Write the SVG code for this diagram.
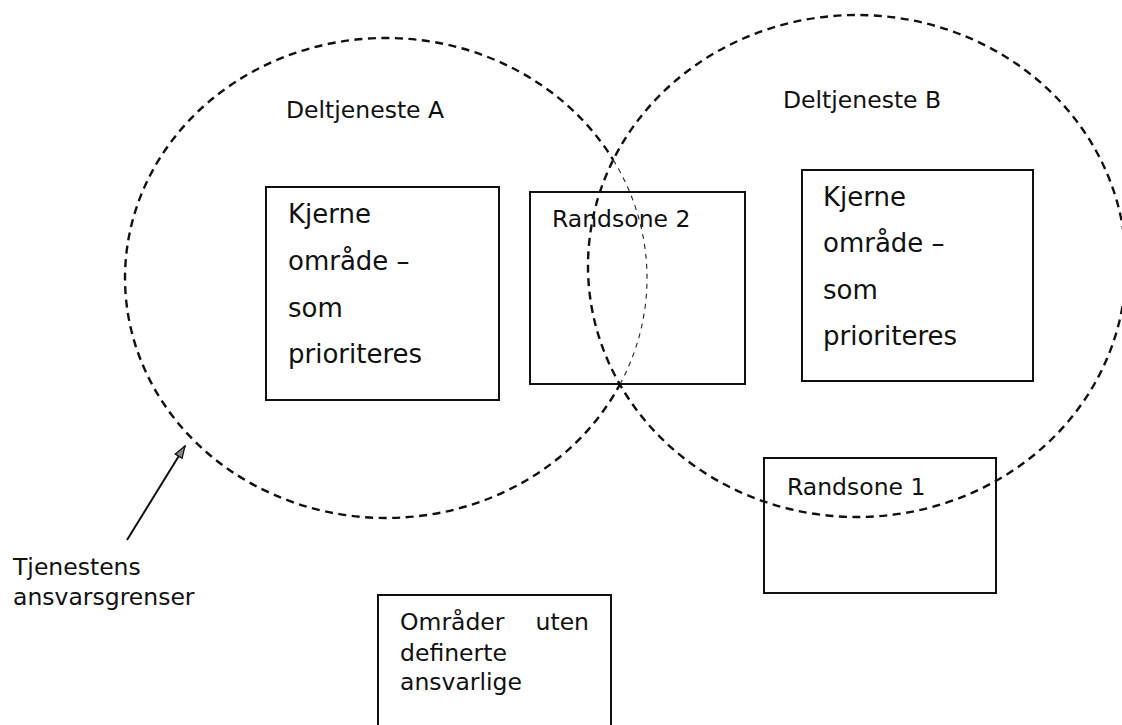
<svg xmlns="http://www.w3.org/2000/svg" width="1122" height="725" viewBox="0 0 1122 725">
<style>
.bound{fill:none;stroke:#111;stroke-width:2.4;stroke-dasharray:8 5.5}
.thin{fill:none;stroke:#222;stroke-width:1.1;stroke-dasharray:5 5}
.box{fill:none;stroke:#111;stroke-width:2}
.t{font-family:"DejaVu Sans","Verdana",sans-serif;font-size:23.5px;fill:#111}
.k{font-family:"DejaVu Sans","Verdana",sans-serif;font-size:26px;fill:#111}
.ln{stroke:#111;stroke-width:2;fill:none}
</style>
<defs>
<marker id="ah" viewBox="0 0 14 10" refX="13" refY="5" markerWidth="14" markerHeight="10" markerUnits="userSpaceOnUse" orient="auto">
<path d="M1,1 L13,5 L1,9 Z" fill="#888" stroke="#111" stroke-width="1.3"/>
</marker>
</defs>
<rect width="1122" height="725" fill="#fff"/>
<g id="deltjeneste-a">
<path class="bound" d="M 620.7 383 A 261 240 0 1 1 613.3 160"/>
<path class="thin" d="M 613.3 160 A 261 240 0 0 1 620.7 383"/>
<text class="t" x="286" y="118">Deltjeneste A</text>
</g>
<g id="deltjeneste-b">
<ellipse class="bound" cx="857" cy="266" rx="269" ry="251"/>
<text class="t" x="783" y="108">Deltjeneste B</text>
</g>
<g id="kjerne-a">
<rect class="box" x="266" y="187" width="233" height="213"/>
<text class="k" x="288" y="223">Kjerne</text>
<text class="k" x="288" y="270">område –</text>
<text class="k" x="288" y="317">som</text>
<text class="k" x="288" y="363">prioriteres</text>
</g>
<g id="randsone-2">
<rect class="box" x="530" y="192" width="215" height="192"/>
<text class="t" x="552" y="227">Randsone 2</text>
</g>
<g id="kjerne-b">
<rect class="box" x="802" y="170" width="231" height="211"/>
<text class="k" x="823" y="206">Kjerne</text>
<text class="k" x="823" y="252">område –</text>
<text class="k" x="823" y="299">som</text>
<text class="k" x="823" y="345">prioriteres</text>
</g>
<g id="randsone-1">
<rect class="box" x="764" y="458" width="232" height="135"/>
<text class="t" x="787" y="495">Randsone 1</text>
</g>
<g id="omrader-uten">
<path class="box" d="M 378 727 L 378 595 L 611 595 L 611 727"/>
<text class="t" x="400" y="630">Områder</text>
<text class="t" x="589" y="630" text-anchor="end">uten</text>
<text class="t" x="400" y="661">definerte</text>
<text class="t" x="400" y="690">ansvarlige</text>
</g>
<g id="tjenestens">
<text class="t" x="13" y="575">Tjenestens</text>
<text class="t" x="13" y="605">ansvarsgrenser</text>
</g>
<g id="connectors">
<line class="ln" x1="127" y1="540" x2="185" y2="446" marker-end="url(#ah)"/>
</g>
</svg>
